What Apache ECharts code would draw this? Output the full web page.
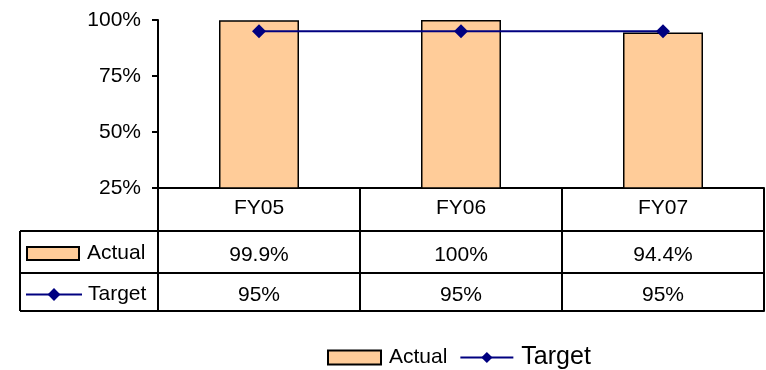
<!DOCTYPE html>
<html>
<head>
<meta charset="utf-8">
<script src="https://cdn.jsdelivr.net/npm/echarts@6/dist/echarts.min.js"></script>
<style>
  html, body { margin: 0; padding: 0; background: #fff; }
  #chart { width: 766px; height: 370px; }
</style>
</head>
<body>
<div id="chart"></div>
<script>
// Fiscal years shown along the bottom
var categories = ['FY05', 'FY06', 'FY07'];
// Percent achieved each year
var actualValues = [99.9, 100, 94.4];
// Goal for each year
var targetValues = [95, 95, 95];
// Value axis range and steps
var yMin = 25, yMax = 100, yStep = 25;

var FONT = '"Liberation Sans", Arial, sans-serif';
var BLACK = '#000';
var TXT = 21;
var pct = function (v) { return v + '%'; };

// Layout of the plot and the data table underneath it
var plotLeft = 158, plotRight = 764, plotTop = 20, plotBottom = 188;
var rowH = [43, 42, 38];           // category row, Actual row, Target row
var tableLeft = 20;

var rowLine1 = plotBottom + rowH[0];
var rowLine2 = rowLine1 + rowH[1];
var rowLine3 = rowLine2 + rowH[2];

function tableAxis(offset, labels, labelMargin) {
  return {
    type: 'category',
    data: categories,
    position: 'bottom',
    offset: offset,
    axisLine: { show: true, lineStyle: { color: BLACK, width: 2 } },
    axisTick: { show: false },
    axisLabel: labels ? {
      show: true,
      interval: 0,
      margin: labelMargin,
      verticalAlign: 'middle',
      fontFamily: FONT, fontSize: TXT, color: BLACK,
      formatter: function (v, i) { return labels[i]; }
    } : { show: false },
    splitLine: { show: false }
  };
}

var chart = echarts.init(document.getElementById('chart'));
chart.setOption({
  animation: false,
  backgroundColor: '#fff',
  grid: {
    left: plotLeft,
    right: 766 - plotRight,
    top: plotTop,
    bottom: 370 - plotBottom,
    containLabel: false
  },
  xAxis: [
    {
      type: 'category',
      data: categories,
      position: 'bottom',
      axisLine: { show: true, lineStyle: { color: BLACK, width: 2 } },
      // column separators of the table reach down through all rows
      axisTick: {
        show: true, alignWithLabel: false, inside: false,
        length: rowLine3 - plotBottom,
        lineStyle: { color: BLACK, width: 2 }
      },
      axisLabel: {
        interval: 0, margin: 20, verticalAlign: 'middle',
        fontFamily: FONT, fontSize: TXT, color: BLACK
      },
      splitLine: { show: false }
    },
    tableAxis(rowH[0], actualValues.map(pct), 24),
    tableAxis(rowH[0] + rowH[1], targetValues.map(pct), 22),
    tableAxis(rowH[0] + rowH[1] + rowH[2], null, 0)
  ],
  yAxis: {
    type: 'value',
    min: yMin, max: yMax, interval: yStep,
    axisLine: { show: true, lineStyle: { color: BLACK, width: 2 } },
    axisTick: { show: true, inside: false, length: 6, lineStyle: { color: BLACK, width: 2 } },
    axisLabel: {
      margin: 17, fontFamily: FONT, fontSize: TXT, color: BLACK,
      formatter: '{value}%'
    },
    splitLine: { show: false }
  },
  legend: [
    {
      // legend under the chart
      left: 327, top: 345, padding: 0,
      itemWidth: 53, itemHeight: 14, itemGap: 12,
      data: [{ name: 'Actual', icon: 'rect' }, 'Target'],
      textStyle: {
        fontFamily: FONT, color: BLACK, padding: [0, 0, 0, 3],
        rich: {
          a: { fontFamily: FONT, fontSize: 21, color: BLACK },
          t: { fontFamily: FONT, fontSize: 25, color: BLACK }
        }
      },
      formatter: function (name) {
        return name === 'Actual' ? '{a|' + name + '}' : '{t|' + name + '}';
      },
      selectedMode: false
    },
    {
      // series key in the Actual row of the table
      left: 26, top: 243, padding: 0,
      itemWidth: 52, itemHeight: 13,
      data: [{ name: 'Actual', icon: 'rect' }],
      textStyle: { fontFamily: FONT, fontSize: TXT, color: BLACK, padding: [0, 0, 0, 3] },
      selectedMode: false
    },
    {
      // series key in the Target row of the table
      left: 25, top: 284, padding: 0,
      itemWidth: 56, itemHeight: 16,
      data: ['Target'],
      textStyle: { fontFamily: FONT, fontSize: TXT, color: BLACK, padding: [0, 0, 0, 1] },
      selectedMode: false
    }
  ],
  // left column frame of the data table
  graphic: [
    { type: 'line', shape: { x1: tableLeft, y1: rowLine1, x2: plotLeft, y2: rowLine1 }, style: { stroke: BLACK, lineWidth: 2 } },
    { type: 'line', shape: { x1: tableLeft, y1: rowLine2, x2: plotLeft, y2: rowLine2 }, style: { stroke: BLACK, lineWidth: 2 } },
    { type: 'line', shape: { x1: tableLeft, y1: rowLine3, x2: plotLeft, y2: rowLine3 }, style: { stroke: BLACK, lineWidth: 2 } },
    { type: 'line', shape: { x1: tableLeft, y1: rowLine1, x2: tableLeft, y2: rowLine3 }, style: { stroke: BLACK, lineWidth: 2 } }
  ],
  series: [
    {
      name: 'Actual',
      type: 'bar',
      data: actualValues,
      barWidth: 80,
      itemStyle: { color: '#FFCC99', borderColor: BLACK, borderWidth: 1.5 },
      z: 2
    },
    {
      name: 'Target',
      type: 'line',
      data: targetValues,
      symbol: 'diamond',
      symbolSize: [14, 14],
      itemStyle: { color: '#000080' },
      lineStyle: { color: '#000080', width: 2 },
      z: 3
    }
  ]
});
</script>
</body>
</html>
